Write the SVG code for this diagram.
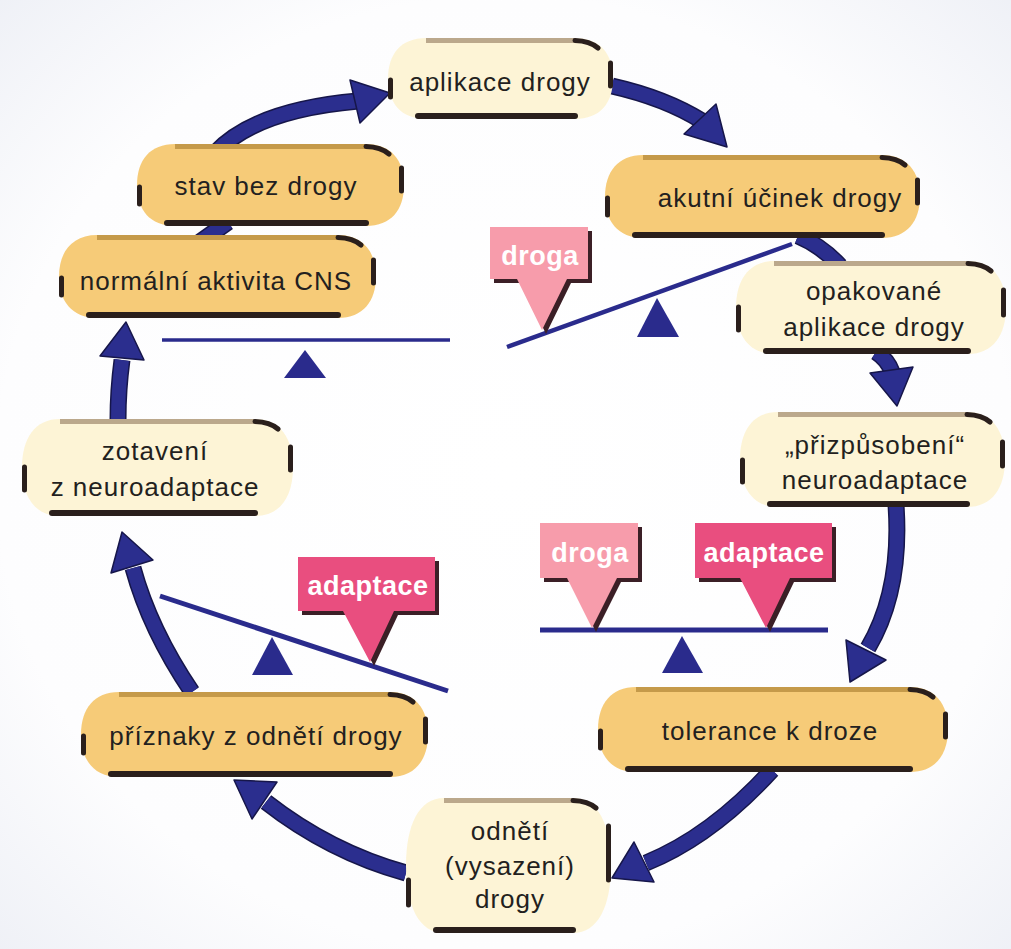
<svg xmlns="http://www.w3.org/2000/svg" width="1011" height="949" viewBox="0 0 1011 949">
<defs>
<radialGradient id="bg" cx="50%" cy="50%" r="72%">
<stop offset="0%" stop-color="#ffffff"/>
<stop offset="70%" stop-color="#fdfdfe"/>
<stop offset="100%" stop-color="#eef0f6"/>
</radialGradient>
<style>
.arrow{fill:none;stroke:#2b2e8e;stroke-width:14}
.edge{fill:none;stroke:#16164a;stroke-width:17}
.head{fill:#2b2e8e;stroke:#16164a;stroke-width:1.5;stroke-linejoin:round}
.cream{fill:#fdf4d6}
.orange{fill:#f6cb78}
.tbc{stroke:#bba88c;stroke-width:5}
.tbo{stroke:#c59a4a;stroke-width:5}
.bot{stroke:#2a1f1c;stroke-width:6;stroke-linecap:round}
.mark{stroke:#2a1f1c;stroke-width:5;stroke-linecap:round;fill:none}
.lbl{font-family:"Liberation Sans",Arial,sans-serif;font-size:26px;letter-spacing:1px;fill:#231f20;text-anchor:middle}
.tag{font-family:"Liberation Sans",Arial,sans-serif;font-weight:bold;font-size:27px;letter-spacing:0.5px;fill:#ffffff;text-anchor:middle}
.beam{stroke:#2a2b8c;fill:none}
.fulcrum{fill:#2a2b8c}
.shadow{fill:#3b1f26}
.pinkL{fill:#f79cab}
.pinkD{fill:#e94e7f}
</style>
</defs>
<rect x="0" y="0" width="1011" height="949" fill="url(#bg)"/>

<g id="connectors">
<path class="edge" d="M215,153 Q255,110 358,101"/>
<path class="edge" d="M612,86 Q665,98 702,121"/>
<path class="edge" d="M798,236 Q822,246 840,266"/>
<path class="edge" d="M876,352 Q888,360 892,372"/>
<path class="edge" d="M896,505 Q902,590 868,648"/>
<path class="edge" d="M772,770 Q712,836 646,863"/>
<path class="edge" d="M406,873 Q330,852 266,802"/>
<path class="edge" d="M192,692 Q150,630 133,568"/>
<path class="edge" d="M118,420 Q118,390 122,360"/>
<path class="edge" d="M200,242 L228,222"/>
<path class="arrow" d="M215,153 Q255,110 358,101"/>
<path class="arrow" d="M612,86 Q665,98 702,121"/>
<path class="arrow" d="M798,236 Q822,246 840,266"/>
<path class="arrow" d="M876,352 Q888,360 892,372"/>
<path class="arrow" d="M896,505 Q902,590 868,648"/>
<path class="arrow" d="M772,770 Q712,836 646,863"/>
<path class="arrow" d="M406,873 Q330,852 266,802"/>
<path class="arrow" d="M192,692 Q150,630 133,568"/>
<path class="arrow" d="M118,420 Q118,390 122,360"/>
<path class="arrow" d="M200,242 L228,222"/>
<polygon class="head" points="390,93 360,123 350,80"/>
<polygon class="head" points="727,147 684,134 716,104"/>
<polygon class="head" points="897,406 870,373 913,367"/>
<polygon class="head" points="850,682 846,640 886,660"/>
<polygon class="head" points="612,878 634,842 654,882"/>
<polygon class="head" points="234,780 252,819 277,782"/>
<polygon class="head" points="122,532 111,573 153,560"/>
<polygon class="head" points="126,322 100,356 144,360"/>
</g>

<g id="node-aplikace">
<path class="cream" d="M426,38 H575 C600,38 613,54 613,78.5 C613,103 600,119 575,119 H426 C401,119 388,103 388,78.5 C388,54 401,38 426,38 Z"/>
<line class="tbc" x1="426" y1="40.5" x2="575" y2="40.5"/>
<line class="bot" x1="418" y1="116" x2="575" y2="116"/>
<path class="mark" d="M575,40.5 Q590,41 598,48 M610.5,63 L610.5,86 M390.5,80 L390.5,97"/>
<text class="lbl" x="500" y="91">aplikace drogy</text>
</g>

<g id="node-akutni">
<path class="orange" d="M643,155 H882 C907,155 920,172 920,196.5 C920,221 907,238 882,238 H643 C618,238 605,221 605,196.5 C605,172 618,155 643,155 Z"/>
<line class="tbo" x1="643" y1="157.5" x2="882" y2="157.5"/>
<line class="bot" x1="635" y1="235" x2="882" y2="235"/>
<path class="mark" d="M882,157.5 Q897,158 905,165 M917.5,180 L917.5,203 M607.5,198 L607.5,215"/>
<text class="lbl" x="780" y="207">akutní účinek drogy</text>
</g>

<g id="node-opakovane">
<path class="cream" d="M774,261 H968 C993,261 1006,280 1006,307.5 C1006,335 993,354 968,354 H774 C749,354 736,335 736,307.5 C736,280 749,261 774,261 Z"/>
<line class="tbc" x1="774" y1="263.5" x2="968" y2="263.5"/>
<line class="bot" x1="766" y1="351" x2="968" y2="351"/>
<path class="mark" d="M968,263.5 Q983,264 991,271 M1003.5,290 L1003.5,315 M738.5,307 L738.5,330"/>
<text class="lbl" x="874" y="300">opakované</text>
<text class="lbl" x="874" y="336">aplikace drogy</text>
</g>

<g id="node-prizpusobeni">
<path class="cream" d="M778,412 H967 C992,412 1005,431 1005,459.5 C1005,488 992,507 967,507 H778 C753,507 740,488 740,459.5 C740,431 753,412 778,412 Z"/>
<line class="tbc" x1="778" y1="414.5" x2="967" y2="414.5"/>
<line class="bot" x1="770" y1="504" x2="967" y2="504"/>
<path class="mark" d="M967,414.5 Q982,415 990,422 M1002.5,442 L1002.5,466 M742.5,460 L742.5,482"/>
<text class="lbl" x="875" y="454">„přizpůsobení“</text>
<text class="lbl" x="875" y="489">neuroadaptace</text>
</g>

<g id="node-tolerance">
<path class="orange" d="M636,687 H910 C935,687 948,704 948,729.5 C948,755 935,772 910,772 H636 C611,772 598,755 598,729.5 C598,704 611,687 636,687 Z"/>
<line class="tbo" x1="636" y1="689.5" x2="910" y2="689.5"/>
<line class="bot" x1="628" y1="769" x2="910" y2="769"/>
<path class="mark" d="M910,689.5 Q925,690 933,697 M945.5,714 L945.5,737 M600.5,731 L600.5,748"/>
<text class="lbl" x="770" y="740">tolerance k droze</text>
</g>

<g id="node-odneti">
<path class="cream" d="M444,798 H573 C598,798 611,825 611,865.5 C611,906 598,933 573,933 H444 C419,933 406,906 406,865.5 C406,825 419,798 444,798 Z"/>
<line class="tbc" x1="444" y1="800.5" x2="573" y2="800.5"/>
<line class="bot" x1="436" y1="930" x2="573" y2="930"/>
<path class="mark" d="M573,800.5 Q588,801 596,808 M608.5,826 L608.5,880 M408.5,880 L408.5,905"/>
<text class="lbl" x="510" y="840">odnětí</text>
<text class="lbl" x="510" y="875">(vysazení)</text>
<text class="lbl" x="510" y="908">drogy</text>
</g>

<g id="node-priznaky">
<path class="orange" d="M119,692 H390 C415,692 428,709 428,734.5 C428,760 415,777 390,777 H119 C94,777 81,760 81,734.5 C81,709 94,692 119,692 Z"/>
<line class="tbo" x1="119" y1="694.5" x2="390" y2="694.5"/>
<line class="bot" x1="111" y1="774" x2="390" y2="774"/>
<path class="mark" d="M390,694.5 Q405,695 413,702 M425.5,719 L425.5,742 M83.5,736 L83.5,753"/>
<text class="lbl" x="256" y="745">příznaky z odnětí drogy</text>
</g>

<g id="node-zotaveni">
<path class="cream" d="M60,419 H255 C280,419 293,438 293,467.5 C293,497 280,516 255,516 H60 C35,516 22,497 22,467.5 C22,438 35,419 60,419 Z"/>
<line class="tbc" x1="60" y1="421.5" x2="255" y2="421.5"/>
<line class="bot" x1="52" y1="513" x2="255" y2="513"/>
<path class="mark" d="M255,421.5 Q270,422 278,429 M290.5,447 L290.5,470 M24.5,467 L24.5,490"/>
<text class="lbl" x="155" y="460">zotavení</text>
<text class="lbl" x="155" y="496">z neuroadaptace</text>
</g>

<g id="node-normalni">
<path class="orange" d="M97,235 H338 C363,235 376,252 376,276.5 C376,301 363,318 338,318 H97 C72,318 59,301 59,276.5 C59,252 72,235 97,235 Z"/>
<line class="tbo" x1="97" y1="237.5" x2="338" y2="237.5"/>
<line class="bot" x1="89" y1="315" x2="338" y2="315"/>
<path class="mark" d="M338,237.5 Q353,238 361,245 M373.5,260 L373.5,283 M61.5,278 L61.5,295"/>
<text class="lbl" x="216" y="290">normální aktivita CNS</text>
</g>

<g id="node-stav">
<path class="orange" d="M175,144 H366 C391,144 404,160 404,185 C404,210 391,226 366,226 H175 C150,226 137,210 137,185 C137,160 150,144 175,144 Z"/>
<line class="tbo" x1="175" y1="146.5" x2="366" y2="146.5"/>
<line class="bot" x1="167" y1="223" x2="366" y2="223"/>
<path class="mark" d="M366,146.5 Q381,147 389,154 M401.5,168 L401.5,191 M139.5,187 L139.5,204"/>
<text class="lbl" x="266" y="195">stav bez drogy</text>
</g>

<g id="seesaw-balanced-top">
<line class="beam" stroke-width="3.5" x1="162" y1="340" x2="450" y2="340"/>
<polygon class="fulcrum" points="305,350 326,378 284,378"/>
</g>

<g id="seesaw-drug">
<line class="beam" stroke-width="4.5" x1="507" y1="347" x2="792" y2="244"/>
<polygon class="fulcrum" points="657,298 679,337 637,337"/>
<path class="shadow" d="M494,231 H592 V283 H571 L546,334 L521,283 H494 Z"/>
<path class="pinkL" d="M490,227 H588 V279 H567 L542,330 L517,279 H490 Z"/>
<text class="tag" x="540" y="265">droga</text>
</g>

<g id="seesaw-tolerance">
<line class="beam" stroke-width="5" x1="540" y1="630" x2="828" y2="630"/>
<polygon class="fulcrum" points="682,636 703,673 662,673"/>
<path class="shadow" d="M544,527 H642 V582 H621 L596,632 L571,582 H544 Z"/>
<path class="pinkL" d="M540,523 H638 V578 H617 L592,628 L567,578 H540 Z"/>
<text class="tag" x="590" y="562">droga</text>
<path class="shadow" d="M699,527 H836 V582 H794 L770,632 L744,582 H699 Z"/>
<path class="pinkD" d="M695,523 H832 V578 H790 L766,628 L740,578 H695 Z"/>
<text class="tag" x="764" y="562">adaptace</text>
</g>

<g id="seesaw-withdrawal">
<line class="beam" stroke-width="5" x1="160" y1="596" x2="448" y2="691"/>
<polygon class="fulcrum" points="272,637 293,675 252,675"/>
<path class="shadow" d="M302,561 H439 V615 H398 L374,666 L347,615 H302 Z"/>
<path class="pinkD" d="M298,557 H435 V611 H394 L370,662 L343,611 H298 Z"/>
<text class="tag" x="368" y="595">adaptace</text>
</g>
</svg>
